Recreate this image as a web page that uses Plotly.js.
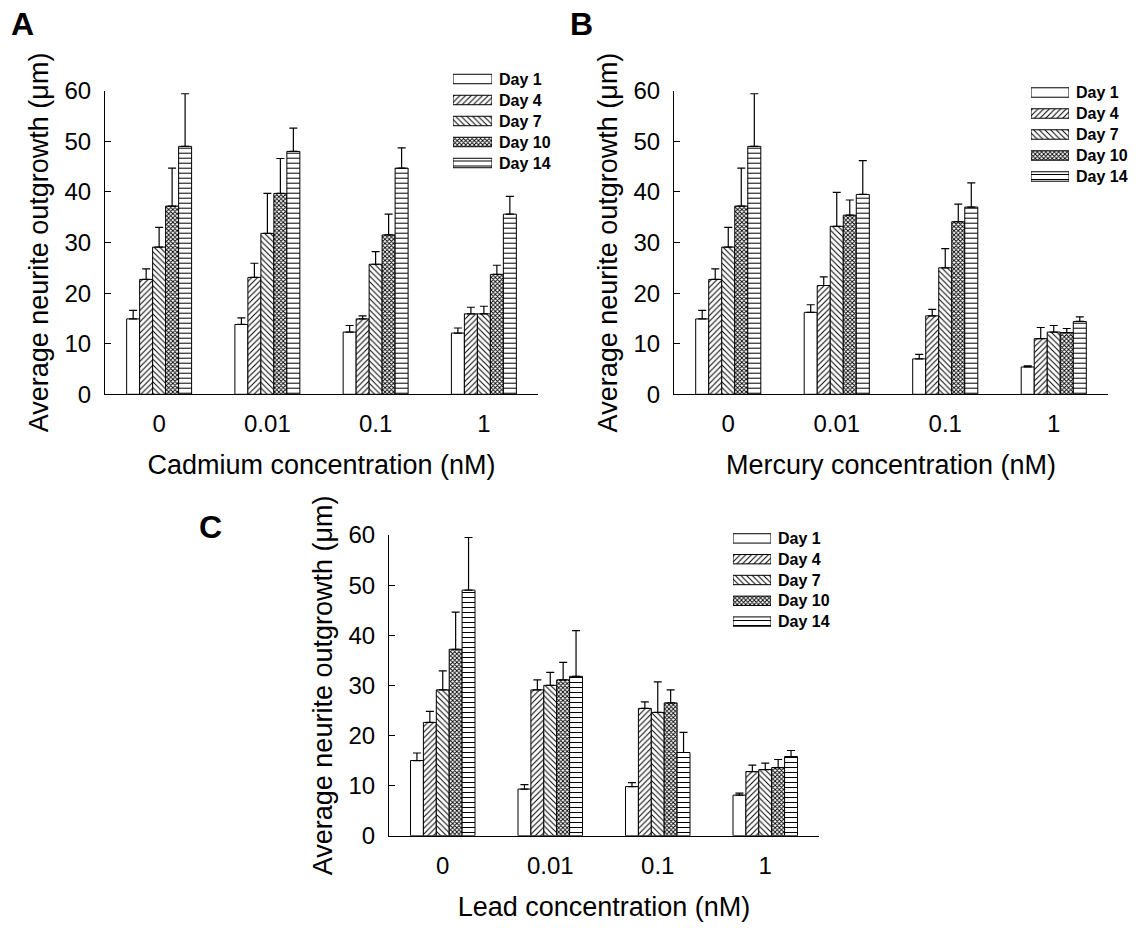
<!DOCTYPE html>
<html>
<head>
<meta charset="utf-8">
<script src="https://cdn.plot.ly/plotly-3.0.1.min.js"></script>
<style>html,body{margin:0;padding:0;background:#fff;}#chart{width:1143px;height:928px;}</style>
</head>
<body>
<div id="chart"></div>
<script>
// ---- data ----
const concentrations = ['0', '0.01', '0.1', '1'];
const days = ['Day 1', 'Day 4', 'Day 7', 'Day 10', 'Day 14'];

// rows: Day 1, Day 4, Day 7, Day 10, Day 14 ; columns: 0, 0.01, 0.1, 1 nM
const cadmiumMean = [
  [14.9, 13.8, 12.3, 12.1],
  [22.7, 23.1, 14.9, 15.9],
  [29.1, 31.8, 25.7, 15.9],
  [37.2, 39.7, 31.5, 23.7],
  [49.0, 48.0, 44.7, 35.6]
];
const cadmiumErr = [
  [1.7, 1.3, 1.3, 1.0],
  [2.1, 2.8, 0.6, 1.3],
  [3.9, 7.9, 2.5, 1.5],
  [7.5, 6.9, 4.1, 1.8],
  [10.4, 4.6, 4.0, 3.5]
];
const mercuryMean = [
  [14.9, 16.2, 7.0, 5.4],
  [22.7, 21.5, 15.5, 11.0],
  [29.1, 33.2, 25.0, 12.3],
  [37.2, 35.4, 34.1, 12.2],
  [49.0, 39.5, 37.0, 14.4]
];
const mercuryErr = [
  [1.7, 1.5, 0.9, 0.2],
  [2.1, 1.7, 1.3, 2.2],
  [3.9, 6.7, 3.8, 1.3],
  [7.5, 3.0, 3.5, 0.8],
  [10.4, 6.7, 4.8, 0.9]
];
const leadMean = [
  [15.0, 9.3, 9.8, 8.1],
  [22.6, 29.1, 25.4, 12.8],
  [29.1, 30.0, 24.6, 13.2],
  [37.2, 31.1, 26.5, 13.6],
  [49.0, 31.8, 16.6, 15.8]
];
const leadErr = [
  [1.5, 0.9, 0.8, 0.4],
  [2.2, 2.0, 1.3, 1.3],
  [3.8, 2.6, 6.1, 1.3],
  [7.4, 3.5, 2.6, 1.6],
  [10.5, 9.1, 4.0, 1.2]
];
const yTickVals = [0, 10, 20, 30, 40, 50, 60];
const xTitles = ['Cadmium concentration (nM)', 'Mercury concentration (nM)', 'Lead concentration (nM)'];
const yTitle = 'Average neurite outgrowth (\u03bcm)';
const panelLabels = ['A', 'B', 'C'];

// ---- styles ----
const FONT = 'Liberation Sans, Arial, sans-serif';
const patShape = ['', '/', '\\', 'x', '-'];
const patSize = [8, 4, 4, 3, 5];
const patSolid = [0.3, 0.25, 0.25, 0.5, 0.2];

const W = 1143, H = 928;
const px = v => v / W;
const py = v => 1 - v / H;

// main panels: [xLeft, xRight, yTop, yBottom] in pixels
const panels = [
  [105, 538, 90.7, 394.3],
  [674, 1108, 90.7, 394.3],
  [389, 819, 535, 835.7]
];
// legend boxes: [xLeft, xRight, yTop, yBottom]
const legends = [
  [453, 492, 68.5, 173.5],
  [1031, 1069, 82, 187],
  [733, 771, 528, 632]
];

const groups = [
  [cadmiumMean, cadmiumErr],
  [mercuryMean, mercuryErr],
  [leadMean, leadErr]
];

const traces = [];
const layout = {
  width: W, height: H,
  margin: {l: 0, r: 0, t: 0, b: 0},
  paper_bgcolor: '#fff', plot_bgcolor: 'rgba(0,0,0,0)',
  barmode: 'group', bargap: 0.4, bargroupgap: 0,
  showlegend: false,
  font: {family: FONT, color: '#000'},
  annotations: []
};

groups.forEach((g, p) => {
  const [means, errs] = g;
  const ax = p === 0 ? '' : String(p + 1);
  days.forEach((d, i) => {
    traces.push({
      type: 'bar',
      name: d,
      x: concentrations,
      y: means[i],
      xaxis: 'x' + ax, yaxis: 'y' + ax,
      marker: {
        color: '#fff',
        line: {color: '#000', width: 1},
        pattern: {shape: patShape[i], size: patSize[i], solidity: patSolid[i], fgcolor: '#000', bgcolor: '#fff', fillmode: 'replace'}
      },
      error_y: {type: 'data', array: errs[i], arrayminus: errs[i].map(() => 0), symmetric: false,
                color: '#000', thickness: 1.2, width: 4},
      hoverinfo: 'skip'
    });
  });
  const b = panels[p];
  layout['xaxis' + ax] = {
    domain: [px(b[0]), px(b[1])], anchor: 'y' + ax,
    type: 'category', categoryarray: concentrations, range: [-0.5, 3.5],
    showline: true, linecolor: '#000', linewidth: 1, ticks: '', showgrid: false, zeroline: false,
    tickfont: {size: 24, family: FONT, color: '#000'}, ticklabelstandoff: 8,
    title: {text: xTitles[p], font: {size: 27, family: FONT, color: '#000'}, standoff: 19},
    fixedrange: true
  };
  layout['yaxis' + ax] = {
    domain: [py(b[3]), py(b[2])], anchor: 'x' + ax,
    range: [0, 60], tickvals: yTickVals,
    showline: true, linecolor: '#000', linewidth: 1, ticks: 'inside', ticklen: 6, tickcolor: '#000',
    showgrid: false, zeroline: false,
    tickfont: {size: 24, family: FONT, color: '#000'}, ticklabelstandoff: 8,
    title: {text: yTitle, font: {size: 27, family: FONT, color: '#000'}, standoff: 8},
    fixedrange: true
  };

  // legend drawn as a small horizontal bar subplot
  const lx = String(p + 4);
  const L = legends[p];
  traces.push({
    type: 'bar', orientation: 'h',
    y: days, x: days.map(() => 1),
    xaxis: 'x' + lx, yaxis: 'y' + lx,
    width: 0.45,
    marker: {
      color: '#fff',
      line: {color: '#000', width: 1},
      pattern: {shape: patShape, size: patSize, solidity: patSolid, fgcolor: '#000', bgcolor: '#fff', fillmode: 'replace'}
    },
    hoverinfo: 'skip', showlegend: false
  });
  layout['xaxis' + lx] = {
    domain: [px(L[0]), px(L[1])], anchor: 'y' + lx, range: [0, 1],
    visible: false, fixedrange: true
  };
  layout['yaxis' + lx] = {
    domain: [py(L[3]), py(L[2])], anchor: 'x' + lx,
    type: 'category', categoryarray: days, range: [4.5, -0.5],
    side: 'right', showline: false, ticks: '', showgrid: false, zeroline: false,
    tickfont: {size: 16, family: FONT, color: '#000', weight: 'bold'}, ticklabelstandoff: 6,
    fixedrange: true
  };
});

// panel letters
const letterPos = [[22, 24], [581, 24], [210, 527]];
panelLabels.forEach((t, i) => {
  layout.annotations.push({
    text: '<b>' + t + '</b>', x: px(letterPos[i][0]), y: py(letterPos[i][1]),
    xref: 'paper', yref: 'paper', showarrow: false, xanchor: 'center', yanchor: 'middle',
    font: {size: 32, family: FONT, color: '#000'}
  });
});

Plotly.newPlot('chart', traces, layout, {displayModeBar: false, staticPlot: true});
</script>
</body>
</html>
